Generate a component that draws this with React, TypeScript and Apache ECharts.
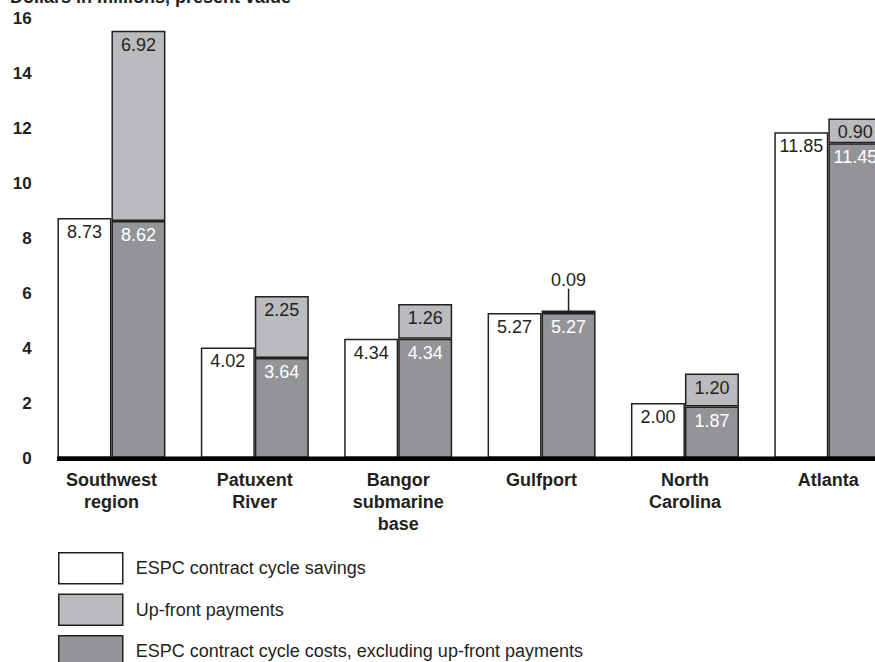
import React, { useEffect, useRef } from "react";
import * as echarts from "echarts";

const categories = [
  "Southwest\nregion",
  "Patuxent\nRiver",
  "Bangor\nsubmarine\nbase",
  "Gulfport",
  "North\nCarolina",
  "Atlanta",
];
const savings = [8.73, 4.02, 4.34, 5.27, 2.0, 11.85];
const costs = [8.62, 3.64, 4.34, 5.27, 1.87, 11.45];
const upfront = [6.92, 2.25, 1.26, 0.09, 1.2, 0.9];
const yMin = 0;
const yMax = 16;
const yStep = 2;

const titleText = "Dollars in millions, present value";
const nameSavings = "ESPC contract cycle savings";
const nameUpfront = "Up-front payments";
const nameCosts = "ESPC contract cycle costs, excluding up-front payments";

const FONT = "'Liberation Sans', Arial, Helvetica, sans-serif";
const INK = "#231f20";
const WHITE = "#ffffff";
const LIGHT = "#babbbe";
const DARK = "#939497";

export default function App() {
  const ref = useRef<HTMLDivElement>(null);

  useEffect(() => {
    if (!ref.current) return;
    const chart = echarts.init(ref.current, null, { renderer: "svg" });

    const labelBase = {
      show: true,
      position: "insideTop",
      distance: 5,
      fontFamily: FONT,
      fontSize: 18,
      color: INK,
      formatter: (p: any) => Number(p.value).toFixed(2),
    };

    const option: any = {
      animation: false,
      backgroundColor: "#ffffff",
      textStyle: { fontFamily: FONT },
      title: {
        text: titleText,
        left: 10,
        top: -12,
        padding: 0,
        textStyle: { fontFamily: FONT, fontSize: 18, fontWeight: "bold", color: INK },
      },
      grid: { left: 39.75, top: 18, width: 861, height: 440, containLabel: false },
      legend: {
        orient: "vertical",
        left: 58,
        top: 552,
        padding: 0,
        itemWidth: 64,
        itemHeight: 31,
        itemGap: 9,
        icon: "rect",
        selectedMode: false,
        data: [nameSavings, nameUpfront, nameCosts],
        itemStyle: { borderColor: INK, borderWidth: 1.5 },
        textStyle: { fontFamily: FONT, fontSize: 18, color: INK, padding: [0, 0, 0, 8] },
      },
      xAxis: {
        type: "category",
        data: categories,
        axisLine: { show: false },
        axisTick: { show: false },
        axisLabel: {
          interval: 0,
          margin: 11,
          fontFamily: FONT,
          fontSize: 18,
          fontWeight: "bold",
          lineHeight: 22,
          color: INK,
        },
      },
      yAxis: {
        type: "value",
        min: yMin,
        max: yMax,
        interval: yStep,
        axisLine: { show: false },
        axisTick: { show: false },
        splitLine: { show: false },
        axisLabel: {
          margin: 8,
          fontFamily: FONT,
          fontSize: 17,
          fontWeight: "bold",
          color: INK,
        },
      },
      series: [
        {
          name: nameSavings,
          type: "bar",
          stack: "s",
          barWidth: 54,
          barGap: "0%",
          data: savings,
          itemStyle: { color: WHITE, borderColor: INK, borderWidth: 1.5 },
          label: { ...labelBase },
        },
        {
          name: nameCosts,
          type: "bar",
          stack: "c",
          barWidth: 54,
          barGap: "0%",
          data: costs,
          itemStyle: { color: DARK, borderColor: INK, borderWidth: 1.5 },
          label: { ...labelBase, color: "#ffffff" },
        },
        {
          name: nameUpfront,
          type: "bar",
          stack: "c",
          barWidth: 54,
          barGap: "0%",
          data: upfront.map((v, i) =>
            v < 0.5
              ? {
                  value: v,
                  label: { position: "top", distance: 2 },
                  labelLine: { show: true, lineStyle: { color: INK, width: 1.5 } },
                }
              : v
          ),
          itemStyle: { color: LIGHT, borderColor: INK, borderWidth: 1.5 },
          label: { ...labelBase },
          labelLayout: (p: any) => (upfront[p.dataIndex] < 0.5 ? { dy: -20 } : {}),
        },
      ],
    };

    chart.setOption(option);
    const y0 = chart.convertToPixel({ yAxisIndex: 0 }, 0) as number;
    chart.setOption({
      graphic: [
        {
          type: "rect",
          z: 100,
          shape: { x: 57, y: y0 - 1.5, width: 900, height: 4.5 },
          style: { fill: "#000000" },
        },
      ],
    });

    return () => chart.dispose();
  }, []);

  return (
    <div
      style={{
        position: "fixed",
        left: 0,
        top: 0,
        width: 875,
        height: 662,
        overflow: "hidden",
        background: "#fff",
      }}
    >
      <div ref={ref} style={{ width: 900, height: 670 }} />
    </div>
  );
}
